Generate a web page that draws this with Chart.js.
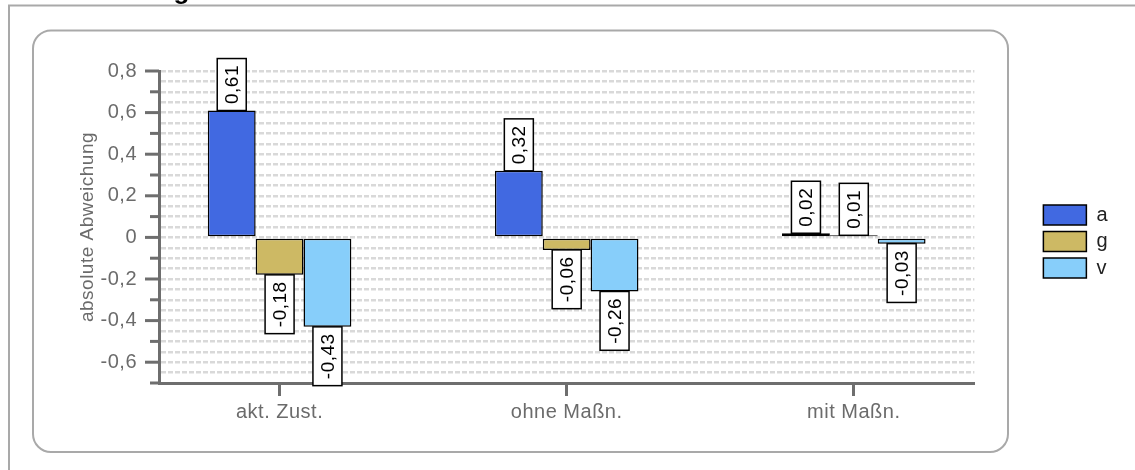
<!DOCTYPE html>
<html>
<head>
<meta charset="utf-8">
<script src="https://cdn.jsdelivr.net/npm/chart.js@4"></script>
<style>
  html, body { margin: 0; padding: 0; background: #fff; }
  canvas { display: block; }
</style>
</head>
<body>
<canvas id="chart" width="1135" height="470"></canvas>
<script>
const categories = ['akt. Zust.', 'ohne Maßn.', 'mit Maßn.'];
const seriesNames = ['a', 'g', 'v'];
const aValues = [0.61, 0.32, 0.02];
const gValues = [-0.18, -0.06, 0.01];
const vValues = [-0.43, -0.26, -0.03];
const seriesColors = ['#4169e1', '#cdb964', '#87cefa'];
const yMin = -0.7;
const yMax = 0.8;
const yTickMarks = [-0.7, -0.6, -0.5, -0.4, -0.3, -0.2, -0.1, 0, 0.1, 0.2, 0.3, 0.4, 0.5, 0.6, 0.7, 0.8];

const family = '"Liberation Sans", Arial, sans-serif';
const axisGray = '#6e6e6e';
const textGray = '#6b6b6b';
const letterGap = '0.5px';

function comma(v, digits) {
    if (v === 0) return '0';
    return v.toFixed(digits).replace('.', ',');
}

// canvas text here is a bit wider than plain Arial
const spacingPlugin = {
    id: 'spacing',
    beforeUpdate(chart) { chart.ctx.letterSpacing = letterGap; },
    beforeDraw(chart) { chart.ctx.letterSpacing = letterGap; }
};

const framePlugin = {
    id: 'frame',
    beforeDraw(chart) {
        const ctx = chart.ctx;
        ctx.save();
        ctx.strokeStyle = '#a9a9a9';
        ctx.lineWidth = 2;
        ctx.beginPath();
        ctx.moveTo(9, 470);
        ctx.lineTo(9, 5.5);
        ctx.lineTo(1135, 5.5);
        ctx.stroke();
        ctx.beginPath();
        ctx.roundRect(33, 30.5, 975, 421.5, 18);
        ctx.stroke();
        ctx.font = 'bold 26px ' + family;
        ctx.fillStyle = '#000';
        ctx.textAlign = 'right';
        ctx.textBaseline = 'alphabetic';
        ctx.fillText('Abweichung', 190, -1);
        ctx.restore();
    }
};

const yTickPlugin = {
    id: 'yTicks',
    afterDraw(chart) {
        const ctx = chart.ctx;
        const y = chart.scales.y;
        const left = chart.chartArea.left;
        ctx.save();
        ctx.strokeStyle = axisGray;
        ctx.lineWidth = 3;
        yTickMarks.forEach(v => {
            const py = y.getPixelForValue(v);
            const len = Math.round(v * 10) % 2 === 0 ? 14 : 9;
            ctx.beginPath();
            ctx.moveTo(left - len, py);
            ctx.lineTo(left, py);
            ctx.stroke();
        });
        ctx.restore();
    }
};

const valueLabelPlugin = {
    id: 'valueLabels',
    afterDraw(chart) {
        const ctx = chart.ctx;
        ctx.save();
        ctx.font = '19px ' + family;
        chart.data.datasets.forEach((ds, di) => {
            chart.getDatasetMeta(di).data.forEach((bar, i) => {
                const v = ds.data[i].y;
                const text = comma(v, 2);
                const w = ctx.measureText(text).width;
                const boxW = 29;
                const boxH = w + 13;
                const x0 = bar.x - boxW / 2;
                const y0 = v >= 0 ? bar.y - boxH : bar.y;
                ctx.fillStyle = '#fff';
                ctx.fillRect(x0, y0, boxW, boxH);
                ctx.strokeStyle = '#000';
                ctx.lineWidth = 1.5;
                ctx.strokeRect(x0, y0, boxW, boxH);
                ctx.translate(bar.x, y0 + boxH / 2);
                ctx.rotate(-Math.PI / 2);
                ctx.fillStyle = '#000';
                ctx.textAlign = 'center';
                ctx.textBaseline = 'middle';
                ctx.fillText(text, 0, 1);
                ctx.setTransform(1, 0, 0, 1, 0, 0);
            });
        });
        ctx.restore();
    }
};

const ctx = document.getElementById('chart').getContext('2d');
const chart = new Chart(ctx, {
    type: 'bar',
    data: {
        datasets: [aValues, gValues, vValues].map((vals, s) => ({
            label: seriesNames[s],
            data: vals.map((v, i) => ({x: i, y: v})),
            backgroundColor: seriesColors[s],
            borderColor: '#000',
            borderWidth: 1.5,
            borderSkipped: false,
            categoryPercentage: 0.5,
            barPercentage: 1.0
        }))
    },
    options: {
        responsive: false,
        animation: false,
        layout: {
            padding: {top: 71, left: 0, right: 17, bottom: 0}
        },
        plugins: {
            legend: {
                position: 'right',
                fullSize: false,
                title: {display: true, text: ' ', font: {size: 10}, padding: 8.5},
                labels: {
                    boxWidth: 43,
                    boxHeight: 20,
                    padding: 6.5,
                    color: '#222',
                    font: {size: 20, family: family}
                }
            },
            tooltip: {enabled: false}
        },
        scales: {
            x: {
                type: 'linear',
                min: -0.42,
                max: 2.42,
                offset: false,
                afterBuildTicks: s => { s.ticks = categories.map((c, i) => ({value: i})); },
                afterFit: s => { s.height = 87; },
                grid: {
                    offset: false,
                    drawOnChartArea: false,
                    drawTicks: true,
                    tickLength: 13,
                    tickWidth: 3,
                    tickColor: axisGray
                },
                border: {display: true, color: axisGray, width: 3},
                ticks: {
                    padding: 4,
                    color: textGray,
                    maxRotation: 0,
                    autoSkip: false,
                    font: {size: 20, family: family},
                    callback: v => categories[v] ?? ''
                }
            },
            y: {
                min: yMin,
                max: yMax,
                afterFit: s => { s.width = 159; },
                grid: {color: '#d9d9d9', lineWidth: 2.5, drawTicks: false},
                border: {display: true, color: axisGray, width: 3, dash: [5, 2]},
                ticks: {
                    stepSize: 0.05,
                    autoSkip: false,
                    padding: 22,
                    color: textGray,
                    font: {size: 20, family: family},
                    callback: v => {
                        const k = Math.round(v * 100);
                        return k % 20 === 0 ? comma(k / 100, 1) : '';
                    }
                },
                title: {
                    display: true,
                    text: 'absolute Abweichung',
                    color: textGray,
                    font: {size: 19, family: family},
                    padding: {top: 76, bottom: 0}
                }
            },
            y2: {
                position: 'right',
                grid: {display: false},
                border: {display: false},
                ticks: {display: false},
                afterFit: s => { s.width = 62.5; }
            }
        }
    },
    plugins: [spacingPlugin, framePlugin, yTickPlugin, valueLabelPlugin]
});
</script>
</body>
</html>
